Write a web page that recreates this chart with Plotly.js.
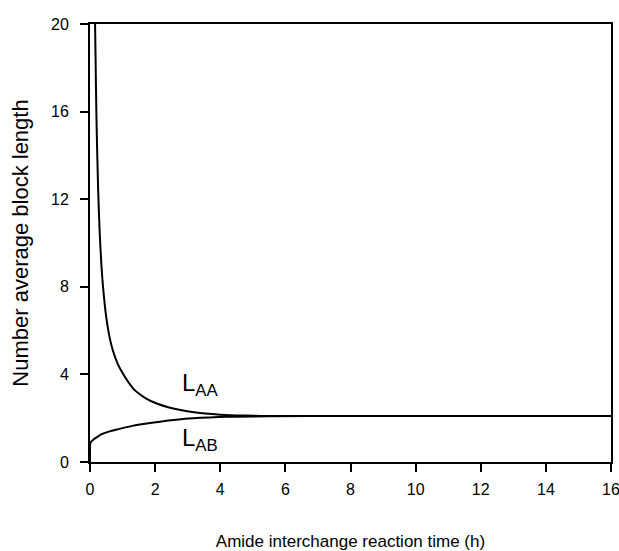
<!DOCTYPE html>
<html>
<head>
<meta charset="utf-8">
<script src="https://cdn.plot.ly/plotly-3.0.1.min.js"></script>
<style>html,body{margin:0;padding:0;background:#fff;}#chart{width:619px;height:551px;}</style>
</head>
<body>
<div id="chart"></div>
<script>
// L_AA series (time in h, number average block length)
const tAA = [0.15, 0.17, 0.20, 0.25, 0.30, 0.35, 0.40, 0.50, 0.60, 0.70, 0.85, 1.00, 1.20, 1.38, 1.70, 2.05, 2.40, 2.82, 3.20, 3.54, 4.00, 4.70, 5.50, 8, 12, 16];
const LAA = [20.6, 18.5, 15.6, 12.45, 10.4, 9.0, 8.0, 6.6, 5.7, 5.1, 4.48, 4.06, 3.6, 3.27, 2.92, 2.67, 2.5, 2.36, 2.27, 2.21, 2.16, 2.12, 2.1, 2.1, 2.1, 2.1];
// L_AB series
const tAB = [0, 0.005, 0.03, 0.1, 0.2, 0.36, 0.6, 0.87, 1.3, 1.9, 2.4, 2.92, 3.4, 3.94, 4.5, 5.5, 8, 12, 16];
const LAB = [0, 0.8, 0.92, 1.02, 1.12, 1.27, 1.4, 1.5, 1.65, 1.79, 1.89, 1.97, 2.02, 2.05, 2.07, 2.09, 2.1, 2.1, 2.1];
const xTicks = [0, 2, 4, 6, 8, 10, 12, 14, 16];
const yTicks = [0, 4, 8, 12, 16, 20];
const labels = [
  {text: 'L<sub>AA</sub>', x: 2.75, y: 3.55},
  {text: 'L<sub>AB</sub>', x: 2.75, y: 1.05}
];

const font = 'Liberation Sans, Arial, sans-serif';
const traces = [
  {x: tAA, y: LAA, mode: 'lines', line: {color: '#000', width: 2, shape: 'spline', smoothing: 0.8}, hoverinfo: 'skip'},
  {x: tAB, y: LAB, mode: 'lines', line: {color: '#000', width: 2, shape: 'spline', smoothing: 0.5}, hoverinfo: 'skip'}
];
const layout = {
  width: 619, height: 551,
  margin: {l: 90, r: 8, t: 24, b: 89},
  paper_bgcolor: '#fff', plot_bgcolor: '#fff',
  showlegend: false,
  font: {family: font, color: '#000', size: 16},
  xaxis: {
    range: [0, 16], tickvals: xTicks, ticktext: xTicks.map(String),
    ticks: 'outside', ticklen: 8, tickwidth: 2, tickcolor: '#000',
    ticklabelstandoff: 4, ticklabeloverflow: 'allow',
    showline: true, linewidth: 2, linecolor: '#000', mirror: true,
    showgrid: false, zeroline: false,
    tickfont: {size: 16, family: font},
    title: {text: 'Amide interchange reaction time (h)', font: {size: 17, family: font}, standoff: 38}
  },
  yaxis: {
    range: [0, 20], tickvals: yTicks, ticktext: yTicks.map(String),
    ticks: 'outside', ticklen: 8, tickwidth: 2, tickcolor: '#000',
    ticklabelstandoff: 8, ticklabeloverflow: 'allow',
    showline: true, linewidth: 2, linecolor: '#000', mirror: true,
    showgrid: false, zeroline: false,
    tickfont: {size: 16, family: font},
    title: {text: 'Number average block length', font: {size: 22, family: font}, standoff: 16}
  },
  annotations: labels.map(l => ({
    text: l.text, x: l.x, y: l.y, xref: 'x', yref: 'y',
    xanchor: 'left', yanchor: 'middle', showarrow: false,
    font: {size: 24, family: font, color: '#000'}
  }))
};
Plotly.newPlot('chart', traces, layout, {displayModeBar: false, staticPlot: true});
</script>
</body>
</html>
